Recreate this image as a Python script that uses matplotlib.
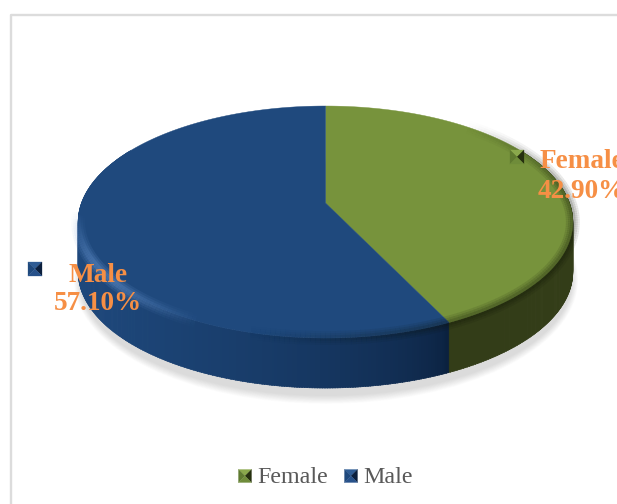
import numpy as np
import matplotlib
matplotlib.use("Agg")
import matplotlib.pyplot as plt
from matplotlib.patches import Polygon, Ellipse
from matplotlib.collections import LineCollection

# --- data ---
categories = ["Female", "Male"]
shares = [42.90, 57.10]
label_text = ["42.90%", "57.10%"]

# --- colours ---
top_colors = ["#77933c", "#1f497d"]
marker_shades = [("#8aa84c", "#5f7a30", "#26300f", "#6f8c3a"),
                 ("#2f5c94", "#1f497d", "#0b1f3d", "#27518a")]
label_color = "#f68f45"
legend_color = "#595959"
border_color = "#dcdcdc"

# pixel canvas, y goes down like the picture
fig = plt.figure(figsize=(6.17, 5.04), dpi=100)
ax = fig.add_axes([0, 0, 1, 1])
ax.set_xlim(0, 617)
ax.set_ylim(504, 0)
ax.axis("off")

# chart frame, runs off the right and bottom of the crop
ax.plot([11, 11, 625], [512, 15, 15], color=border_color, lw=1.7)

# pie geometry: circle seen in perspective, apex sits above the ellipse centre
cx, apex_y, radius, k, a = 325.5, 203, 244, -0.164, 79.6
depth = 50


def rim(theta):
    # theta in degrees, clockwise from 12 o'clock
    t = np.radians(theta)
    u, v = np.sin(t), -np.cos(t)
    d = 1 + k * v
    return cx + radius * u / d, (a * v + apex_y) / d


# soft shadow below the pie
for grow in np.linspace(12, 0, 12):
    ax.add_patch(Ellipse((326, 280), 2 * 246 + grow * 1.0, 2 * 116 + grow * 1.3,
                         color="#808080", alpha=0.022, lw=0, zorder=1))

# slice angles from the shares
total = sum(shares)
edges = np.cumsum([0] + shares) / total * 360

# side wall, drawn in thin strips so the colour can shift along it
left_blue = np.array([0x1e, 0x48, 0x7c]) / 255
right_blue = np.array([0x0b, 0x21, 0x3f]) / 255
green_side = np.array([0x33, 0x3d, 0x18]) / 255
for th in np.arange(60, 300, 0.5):
    x0, y0 = rim(th)
    x1, y1 = rim(th + 0.7)
    if th < edges[1]:
        c = green_side
    else:
        f = np.clip((447 - x0) / 370, 0, 1) ** 0.55
        c = right_blue + (left_blue - right_blue) * f
    ax.add_patch(Polygon([(x0, y0), (x1, y1), (x1, y1 + depth), (x0, y0 + depth)],
                         closed=True, fc=c, ec=c, lw=0.4, zorder=2))

# top surface
for i in range(len(shares)):
    ths = np.linspace(edges[i], edges[i + 1], 200)
    xs, ys = rim(ths)
    pts = np.column_stack([np.r_[cx, xs], np.r_[apex_y, ys]])
    ax.add_patch(Polygon(pts, closed=True, fc=top_colors[i], ec=top_colors[i], lw=0.3, zorder=3))

# bevel round the rim: dark on the green part, fading out under the blue,
# and a thin light streak on the lower left
ths = np.arange(40, 300, 1.0)
xs, ys = rim(ths)
segs = [[(xs[j], ys[j]), (xs[j + 1], ys[j + 1])] for j in range(len(ths) - 1)]
for lw, scale in [(10, 0.10), (7, 0.12), (4, 0.15)]:
    cols = []
    for th in ths[:-1]:
        if th < 200:
            strength = np.clip((th - 40) / 40, 0, 1) * np.clip((195 - th) / 45, 0, 1)
            cols.append((0.05, 0.07, 0.02, strength * scale))
        else:
            strength = np.clip((th - 205) / 25, 0, 1) * np.clip((265 - th) / 25, 0, 1)
            cols.append((0.42, 0.60, 0.84, strength * scale * 1.6))
    ax.add_collection(LineCollection(segs, colors=cols, linewidths=lw, zorder=4, capstyle="butt"))


def bevel_marker(xc, yc, half, shades):
    # small pyramid square: top, left, right, bottom facets
    top, left, right, bottom = shades
    tl, tr = (xc - half, yc - half), (xc + half, yc - half)
    bl, br = (xc - half, yc + half), (xc + half, yc + half)
    mid = (xc, yc)
    for corners, col in [((tl, tr, mid), top), ((tl, bl, mid), left),
                         ((tr, br, mid), right), ((bl, br, mid), bottom)]:
        ax.add_patch(Polygon(corners, closed=True, fc=col, ec=col, lw=0.2, zorder=6))


# data labels
serif = "Liberation Serif"
label_pos = [(582, 162, 191, 517, 157), (98, 275, 304, 35, 269)]
for i, (tx, y1, y2, mx, my) in enumerate(label_pos):
    ax.text(tx, y1, categories[i], color=label_color, family=serif, weight="bold",
            fontsize=19.6, ha="center", va="center", zorder=7)
    ax.text(tx, y2, label_text[i], color=label_color, family=serif, weight="bold",
            fontsize=19.6, ha="center", va="center", zorder=7)
    bevel_marker(mx, my, 7, marker_shades[i])

# legend
legend_pos = [(245, 257), (351, 363)]
for i, (mx, tx) in enumerate(legend_pos):
    bevel_marker(mx, 476, 6.5, marker_shades[i])
    ax.text(tx, 477.5, categories[i], color=legend_color, family=serif,
            fontsize=17.3, ha="left", va="center", zorder=7)

fig.savefig("out.png", dpi=100)
